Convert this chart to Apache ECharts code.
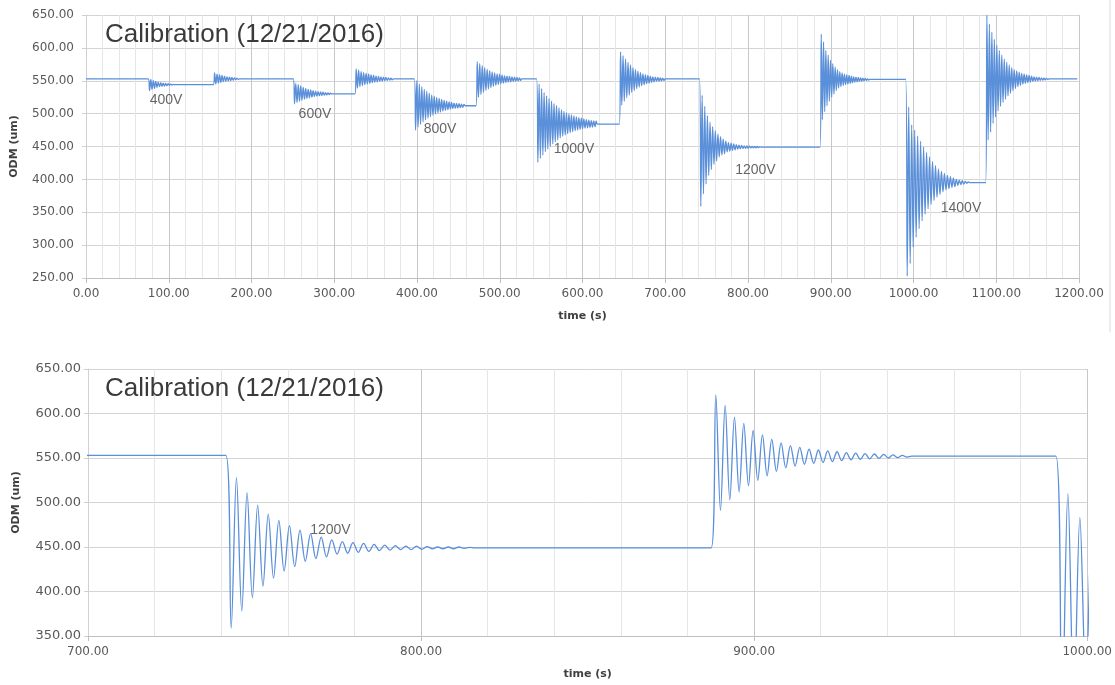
<!DOCTYPE html>
<html lang="en">
<head>
    <meta charset="UTF-8">
    <title>Calibration (12/21/2016)</title>
    <script src="https://cdn.jsdelivr.net/npm/echarts@6/dist/echarts.min.js"></script>
</head>
<body style="margin: 0; background: #ffffff">
<div id="chart" style="width: 1115px; height: 685px"></div>
<script>
    // ODM reading (um) before the first step
    const startLevel = 553;
    const endTime = 1198;
    // time of each voltage switch (s) and the level it settles to
    const stepTimes = [75.3, 153.9, 250.5, 325, 396.8, 471.3, 544.6, 644.5, 741.4, 887.1, 990.6, 1087.2];
    const stepLevels = [544, 553, 530, 553, 512, 553, 484, 553, 449, 552, 395, 553];
    // half of the ringing period for each step (s)
    const halfPeriods = [1.5, 1.5, 1.5, 1.5, 1.5, 1.5, 1.5, 1.5, 1.59, 1.4, 1.8, 1.5];
    // successive extremes of the ringing after each step
    const swings = [
        [535, 552, 537, 550, 538.5, 549, 540, 548, 541, 547, 541.5, 546.5, 542, 546, 542.5, 545.5, 543, 545, 543.5, 544.5],
        [562, 545, 560, 546.5, 559, 547.5, 558, 548.5, 557, 549, 556, 550, 555.5, 550.5, 555, 551, 554.5, 551.5, 554, 552],
        [515, 546, 517, 544, 519, 542, 520.5, 540, 522, 538.5, 523, 537, 524, 536, 525, 535, 526, 534, 526.5, 533.5,
            527, 533, 527.5, 532.5, 528, 532, 528.5, 531.5, 529, 531],
        [568, 539, 566, 541, 564, 542.5, 562.5, 544, 561, 545, 560, 546, 559, 547, 558, 548, 557, 548.5, 556.5, 549,
            556, 549.5, 555.5, 550, 555, 550.5, 554.5, 551, 554, 551.5],
        [475, 550, 480, 545, 484, 541, 487.5, 537, 490.5, 534, 493, 531, 495.5, 528.5, 497.5, 526.5, 499.5, 524.5, 501, 523,
            502.5, 521.5, 504, 520, 505, 519, 506, 518, 507, 517, 507.5, 516, 508, 515.5, 508.5, 515, 509, 514.5, 509.5, 514],
        [579, 525, 576, 529, 573, 532, 570, 535, 567.5, 537.5, 565.5, 539.5, 563.5, 541.5, 562, 543, 560.5, 544.5, 559.5, 545.5,
            558.5, 546.5, 557.5, 547.5, 557, 548, 556.5, 548.5, 556, 549, 555.5, 549.5, 555, 550, 554.5, 550.5],
        [426, 545, 432, 538, 437, 532, 442, 527, 446, 523, 450, 519, 454, 515, 457, 512, 460, 509, 463, 506,
            465.5, 503.5, 467.5, 501.5, 469.5, 499.5, 471, 498, 472.5, 496.5, 474, 495, 475, 494, 476, 493, 477, 492, 478, 491,
            478.5, 490, 479, 489.5, 479.5, 489, 480, 488.5],
        [594, 513, 588, 519, 583, 524, 578, 528, 574, 532, 570, 535, 567, 538, 564.5, 540.5, 562.5, 542.5, 560.5, 544,
            559, 545.5, 558, 546.5, 557, 547.5, 556, 548.5, 555.5, 549, 555, 549.5, 554.5, 550, 554, 550.5],
        [359, 528, 378, 511, 393, 497, 406, 487, 415, 480, 423, 474, 428, 469, 434, 465, 437, 461, 439, 458,
            442, 456, 443, 455, 444, 454, 445, 453, 446, 452, 446.5, 451.5, 447, 451, 447, 451, 447.5, 450.5, 448, 450,
            448, 450, 448, 450, 448.5, 449.5],
        [621, 491, 609, 503, 596, 512, 589, 519, 581, 525, 576, 530, 571, 535, 567, 539, 564, 541, 562, 543,
            560, 544, 559, 545, 558, 546, 557, 547, 556, 548, 555.5, 548.5, 555, 549, 554.5, 549.5, 554, 550, 553.5, 550.5,
            553, 551],
        [253, 510, 272, 483, 297, 475, 312, 466, 325, 458, 337, 449, 347, 441, 355, 434, 362, 427, 368, 421,
            373, 416, 377, 412, 381, 409, 384, 406, 386, 404, 388, 402, 389, 400, 391, 399, 392, 398, 393, 397,
            394, 396],
        [650, 460, 636, 472, 624, 485, 613, 495, 604, 504, 596, 511, 589, 517, 583, 522, 578, 527, 574, 531,
            570, 535, 567, 538, 565, 541, 563, 543, 561, 545, 560, 546, 559, 547, 558, 548, 557, 549, 556, 549.5,
            555.5, 550, 555, 550.5, 554.5, 551, 554, 551.5, 553.5, 552]
    ];
    // text notes on the plots
    const topNotes = ['400V', '600V', '800V', '1000V', '1200V', '1400V'];
    const topNoteTimes = [96.7, 276.7, 427.8, 589.7, 809, 1057.4];
    const topNoteValues = [520.7, 499, 476, 445.4, 413.3, 356];
    const bottomNotes = ['1200V'];
    const bottomNoteTimes = [772.8];
    const bottomNoteValues = [469];

    let signal = [[0, startLevel]];
    let prev = startLevel;
    for (let i = 0; i < stepTimes.length; i++) {
        const t0 = stepTimes[i];
        const h = halfPeriods[i];
        signal.push([t0, prev]);
        swings[i].forEach(function (v, k) {
            signal.push([t0 + h * (k + 1), v]);
        });
        signal.push([t0 + h * (swings[i].length + 1), stepLevels[i]]);
        prev = stepLevels[i];
    }
    signal.push([endTime, prev]);

    const labelFont = 'DejaVu Sans';
    const blue = '#5a8fd9';

    function notes(names, times, values) {
        return names.map(function (n, i) {
            return {value: [times[i], values[i]], name: n};
        });
    }

    function xAxisOf(gridIndex, min, max) {
        return {
            gridIndex: gridIndex, type: 'value', min: min, max: max, interval: 100,
            name: 'time (s)', nameLocation: 'middle', nameGap: 33,
            nameTextStyle: {fontFamily: labelFont, fontWeight: 'bold', fontSize: 11, color: '#404040'},
            axisLine: {onZero: false, lineStyle: {color: '#bfbfbf'}},
            axisTick: {show: true, length: 5, lineStyle: {color: '#bfbfbf'}},
            axisLabel: {fontFamily: labelFont, fontSize: 12, color: '#595959', margin: 10,
                formatter: function (v) { return v.toFixed(2); }},
            splitLine: {show: true, lineStyle: {color: '#c8c8c8'}},
            minorTick: {show: false, splitNumber: 5},
            minorSplitLine: {show: true, lineStyle: {color: '#e6e6e6'}}
        };
    }

    function yAxisOf(gridIndex, min, max, fontSize, margin) {
        return {
            gridIndex: gridIndex, type: 'value', min: min, max: max, interval: 50,
            name: 'ODM (um)', nameLocation: 'middle', nameGap: 66,
            nameTextStyle: {fontFamily: labelFont, fontWeight: 'bold', fontSize: 11, color: '#404040'},
            axisLine: {show: true, lineStyle: {color: '#d0d0d0'}},
            axisTick: {show: true, length: 4, lineStyle: {color: '#d0d0d0'}},
            axisLabel: {fontFamily: labelFont, fontSize: fontSize, color: '#595959', margin: margin,
                formatter: function (v) { return v.toFixed(2); }},
            splitLine: {show: true, lineStyle: {color: '#d4d4d4'}}
        };
    }

    const noteStyle = {
        show: true, position: 'inside', formatter: '{b}',
        fontFamily: 'Liberation Sans', fontSize: 14, color: '#404040'
    };

    let chart = echarts.init(document.getElementById('chart'));
    chart.setOption({
        animation: false,
        backgroundColor: '#ffffff',
        title: [
            {text: 'Calibration (12/21/2016)', left: 100, top: 17,
                textStyle: {fontFamily: 'Liberation Sans', fontWeight: 'normal', fontSize: 26, color: '#3a3a3a'}},
            {text: 'Calibration (12/21/2016)', left: 100, top: 371,
                textStyle: {fontFamily: 'Liberation Sans', fontWeight: 'normal', fontSize: 26, color: '#3a3a3a'}}
        ],
        grid: [
            {left: 86, right: 36, top: 15, height: 263},
            {left: 88, right: 27, top: 369, height: 267}
        ],
        xAxis: [xAxisOf(0, 0, 1200), xAxisOf(1, 700, 1000)],
        yAxis: [yAxisOf(0, 250, 650, 12, 12), yAxisOf(1, 350, 650, 13, 7)],
        graphic: [
            {type: 'line', shape: {x1: 1110, y1: 0, x2: 1110, y2: 332},
                style: {stroke: '#d9d9d9', lineWidth: 1}}
        ],
        series: [
            {type: 'line', xAxisIndex: 0, yAxisIndex: 0, data: signal, showSymbol: false,
                sampling: 'none', smooth: 0.35, lineStyle: {color: blue, width: 1.3}, z: 3},
            {type: 'line', xAxisIndex: 1, yAxisIndex: 1, data: signal, showSymbol: false,
                sampling: 'none', smooth: 0.35, clip: true, lineStyle: {color: blue, width: 1.3}, z: 3},
            {type: 'scatter', xAxisIndex: 0, yAxisIndex: 0, symbolSize: 0, z: 5,
                data: notes(topNotes, topNoteTimes, topNoteValues), label: noteStyle},
            {type: 'scatter', xAxisIndex: 1, yAxisIndex: 1, symbolSize: 0, z: 5,
                data: notes(bottomNotes, bottomNoteTimes, bottomNoteValues), label: noteStyle}
        ]
    });
</script>
</body>
</html>
